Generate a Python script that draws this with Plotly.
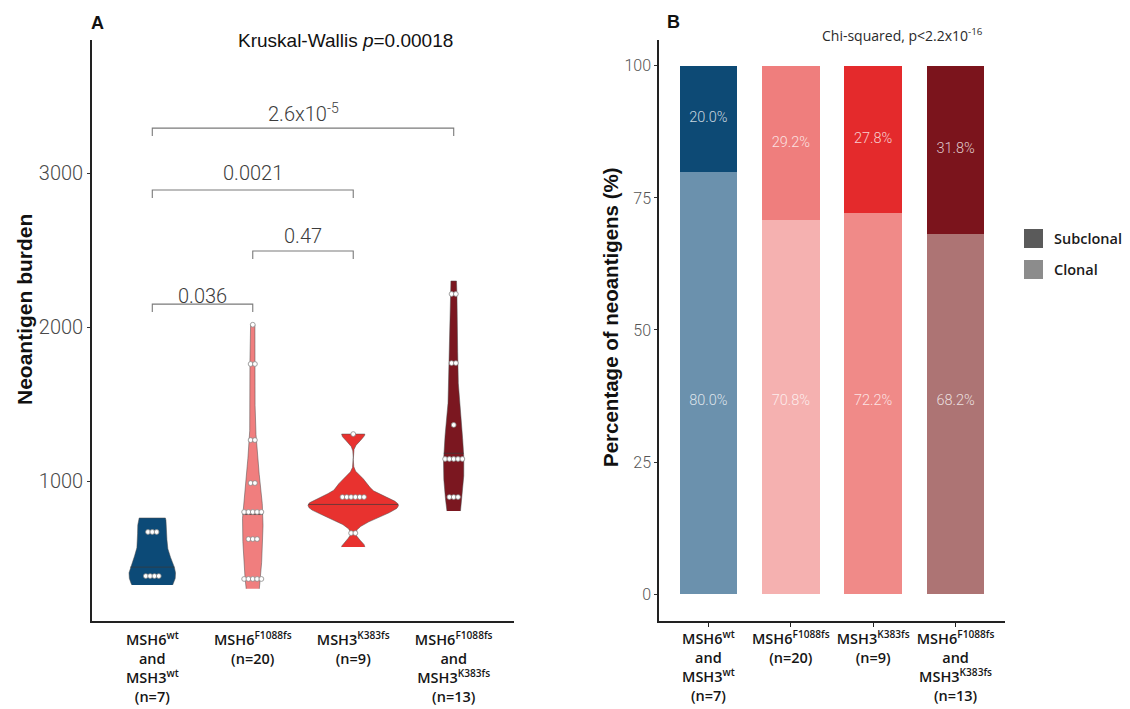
import numpy as np
import plotly.graph_objects as go

W, H = 1130, 709

# ---- data -------------------------------------------------------------
cat_labels = [
    "MSH6<sup>wt</sup><br>and<br>MSH3<sup>wt</sup><br>(n=7)",
    "MSH6<sup>F1088fs</sup><br>(n=20)",
    "MSH3<sup>K383fs</sup><br>(n=9)",
    "MSH6<sup>F1088fs</sup><br>and<br>MSH3<sup>K383fs</sup><br>(n=13)",
]

# neoantigen burden per tumour, one list per genotype group
burden_wt = [325, 352, 395, 441, 578, 720, 760]
burden_msh6 = [300, 318, 345, 390, 428, 560, 615, 686, 752, 770,
               795, 820, 846, 948, 1026, 1200, 1332, 1700, 1820, 2015]
burden_msh3 = [571, 753, 805, 825, 848, 870, 905, 987, 1305]
burden_both = [805, 880, 987, 1050, 1100, 1140, 1180, 1236, 1364,
               1700, 1832, 2130, 2299]
burden = [burden_wt, burden_msh6, burden_msh3, burden_both]

# pairwise comparisons: (group a, group b, p-value label)
comparisons = [
    (1, 2, "0.036"),
    (2, 3, "0.47"),
    (1, 3, "0.0021"),
    (1, 4, "2.6x10<sup>-5</sup>"),
]
kruskal_label = "Kruskal-Wallis <i>p</i>=0.00018"

# clonal / subclonal neoantigen percentages
clonal_pct = [80.0, 70.8, 72.2, 68.2]
subclonal_pct = [20.0, 29.2, 27.8, 31.8]
chisq_label = "Chi-squared, p<2.2x10<sup>-16</sup>"

# ---- styling ----------------------------------------------------------
group_colors = ["#0c4a77", "#f07e7e", "#e8322f", "#7b1720"]
subclonal_colors = ["#0d4a75", "#ef7e7d", "#e42a2c", "#7b141c"]
clonal_colors = ["#6b91ad", "#f5b1b0", "#f08a88", "#ad7474"]

LIGHT = dict(family="Roboto", weight=300)
HEAVY = "Liberation Sans"
LABEL_FONT = dict(family="Open Sans", size=14.5, color="#151515", weight=600)

VIOLIN_WIDTH = 0.9
DOT_BINWIDTH = 190
DOT_STEP = 0.043
BRACKET_LEVELS = [2149, 2494, 2890, 3292]
BRACKET_TEXT = [2201, 2594, 3000, 3390]
BRACKET_DROP = 52
CLONAL_LABEL_Y = 36.5


def px_x(p):
    return p / W


def px_y(p):
    return 1 - p / H


def nrd0(x):
    x = np.asarray(x, float)
    sd = x.std(ddof=1)
    q75, q25 = np.percentile(x, [75, 25])
    lo = min(sd, (q75 - q25) / 1.34)
    if lo == 0:
        lo = sd if sd > 0 else 1.0
    return 0.9 * lo * len(x) ** -0.2


def kde(x, grid):
    x = np.asarray(x, float)
    bw = nrd0(x)
    z = (grid[:, None] - x[None, :]) / bw
    return np.exp(-0.5 * z * z).sum(axis=1) / (len(x) * bw * np.sqrt(2 * np.pi))


def dot_bins(values, binwidth):
    bins, end = [], -np.inf
    for v in sorted(values):
        if v >= end:
            bins.append([])
            end = v + binwidth
        bins[-1].append(v)
    return [((min(b) + max(b)) / 2, len(b)) for b in bins]


fig = go.Figure()

# ---- panel A: violins + dot stacks -------------------------------------
grids, dens = [], []
for vals in burden:
    g = np.linspace(min(vals), max(vals), 512)
    grids.append(g)
    dens.append(kde(vals, g))
dmax = max(d.max() for d in dens)

for i, (vals, g, d, col) in enumerate(zip(burden, grids, dens, group_colors), start=1):
    hw = d / dmax * VIOLIN_WIDTH / 2
    fig.add_trace(go.Scatter(
        x=np.concatenate([i + hw, (i - hw)[::-1]]),
        y=np.concatenate([g, g[::-1]]),
        fill="toself", fillcolor=col, mode="lines",
        line=dict(color="#4a4a4a", width=0.5),
        hoverinfo="skip", xaxis="x", yaxis="y"))
    med = float(np.median(vals))
    hm = float(np.interp(med, g, hw))
    fig.add_trace(go.Scatter(
        x=[i - hm, i + hm], y=[med, med], mode="lines",
        line=dict(color="#3a3a3a", width=0.7),
        hoverinfo="skip", xaxis="x", yaxis="y"))
    dx, dy = [], []
    for center, n in dot_bins(vals, DOT_BINWIDTH):
        for k in range(n):
            dx.append(i + (k - (n - 1) / 2) * DOT_STEP)
            dy.append(center)
    fig.add_trace(go.Scatter(
        x=dx, y=dy, mode="markers",
        marker=dict(size=4.8, color="white", line=dict(color="#8a8a8a", width=0.8)),
        hoverinfo="skip", xaxis="x", yaxis="y"))

# significance brackets
shapes = []
annotations = []
for (a, b, lab), lvl, ty in zip(comparisons, BRACKET_LEVELS, BRACKET_TEXT):
    shapes.append(dict(type="path", xref="x", yref="y",
                       path=f"M {a},{lvl - BRACKET_DROP} L {a},{lvl} L {b},{lvl} L {b},{lvl - BRACKET_DROP}",
                       line=dict(color="#7a7a7a", width=1.1)))
    annotations.append(dict(xref="x", yref="y", x=(a + b) / 2, y=ty, text=lab,
                            showarrow=False, xanchor="center", yanchor="middle",
                            font=dict(size=20, color="#3c3c3c", **LIGHT)))

# ---- panel B: stacked clonal / subclonal bars ---------------------------
cats = [1, 2, 3, 4]
fig.add_trace(go.Bar(x=cats, y=clonal_pct, width=0.7,
                     marker=dict(color=clonal_colors, line=dict(width=0)),
                     hoverinfo="skip", xaxis="x2", yaxis="y2"))
fig.add_trace(go.Bar(x=cats, y=subclonal_pct, width=0.7,
                     marker=dict(color=subclonal_colors, line=dict(width=0)),
                     hoverinfo="skip", xaxis="x2", yaxis="y2"))

fig.add_trace(go.Scatter(
    x=cats, y=[c + s / 2 for c, s in zip(clonal_pct, subclonal_pct)],
    text=[f"{s:.1f}%" for s in subclonal_pct], mode="text",
    textfont=dict(size=14.5, color="rgba(255,255,255,0.78)", **LIGHT),
    hoverinfo="skip", xaxis="x2", yaxis="y2"))
fig.add_trace(go.Scatter(
    x=cats, y=[CLONAL_LABEL_Y] * len(cats),
    text=[f"{c:.1f}%" for c in clonal_pct], mode="text",
    textfont=dict(size=14.5, color="rgba(255,255,255,0.78)", **LIGHT),
    hoverinfo="skip", xaxis="x2", yaxis="y2"))

# legend
for (lab, col), top in zip([("Subclonal", "#5a5a5a"), ("Clonal", "#8c8c8c")], [229, 260]):
    shapes.append(dict(type="rect", xref="paper", yref="paper",
                       x0=px_x(1024), x1=px_x(1043), y0=px_y(top + 19), y1=px_y(top),
                       fillcolor=col, line=dict(width=0)))
    annotations.append(dict(xref="paper", yref="paper", x=px_x(1052), y=px_y(top + 9.5),
                            text=lab, showarrow=False, xanchor="left", yanchor="middle",
                            font=dict(family="Open Sans", size=14.5, color="#1a1a1a", weight=600)))


def centered(x, y, text, font, **kw):
    return dict(xref="paper", yref="paper", x=px_x(x), y=px_y(y), text=text,
                showarrow=False, xanchor="center", yanchor="middle", font=font, **kw)


# titles, panel letters and test labels
annotations += [
    centered(97, 23, "A", dict(family=HEAVY, size=18, color="#111", weight="bold")),
    centered(673, 22, "B", dict(family=HEAVY, size=18, color="#111", weight="bold")),
    centered(345, 40, kruskal_label, dict(family=HEAVY, size=19, color="#111")),
    centered(902, 35, chisq_label, dict(family="Open Sans", size=14, color="#2a2a2a")),
    centered(24, 310, "Neoantigen burden",
             dict(family=HEAVY, size=21, color="#111", weight="bold"), textangle=-90),
    centered(610, 317, "Percentage of neoantigens (%)",
             dict(family=HEAVY, size=20.5, color="#111", weight="bold"), textangle=-90),
]

axis_common = dict(showgrid=False, zeroline=False, showline=True,
                   linecolor="#222", linewidth=1.6, fixedrange=True)

fig.update_layout(
    width=W, height=H, margin=dict(l=0, r=0, t=0, b=0),
    paper_bgcolor="white", plot_bgcolor="white", showlegend=False,
    barmode="stack",
    xaxis=dict(domain=[px_x(92), px_x(514)], range=[0.4, 4.6], tickvals=cats,
               ticktext=cat_labels, ticks="", tickfont=LABEL_FONT, anchor="y",
               ticklabelstandoff=5, **axis_common),
    yaxis=dict(domain=[px_y(621), px_y(40)], range=[91, 3864],
               tickvals=[1000, 2000, 3000], ticks="outside", ticklen=3,
               tickcolor="#333", tickwidth=1, anchor="x",
               tickfont=dict(size=20, color="#4a4a4a", **LIGHT), **axis_common),
    xaxis2=dict(domain=[px_x(659), px_x(1005)], range=[0.4, 4.6], tickvals=cats,
                ticktext=cat_labels, ticks="outside", ticklen=4, tickcolor="#222",
                tickfont=LABEL_FONT, anchor="y2", **axis_common),
    yaxis2=dict(domain=[px_y(621), px_y(40)], range=[-5.1, 104.9],
                tickvals=[0, 25, 50, 75, 100], ticks="outside", ticklen=3,
                tickcolor="#333", tickwidth=1, anchor="x2",
                tickfont=dict(size=16, color="#555", **LIGHT), **axis_common),
    shapes=shapes, annotations=annotations,
)

fig.write_html("out.html")
